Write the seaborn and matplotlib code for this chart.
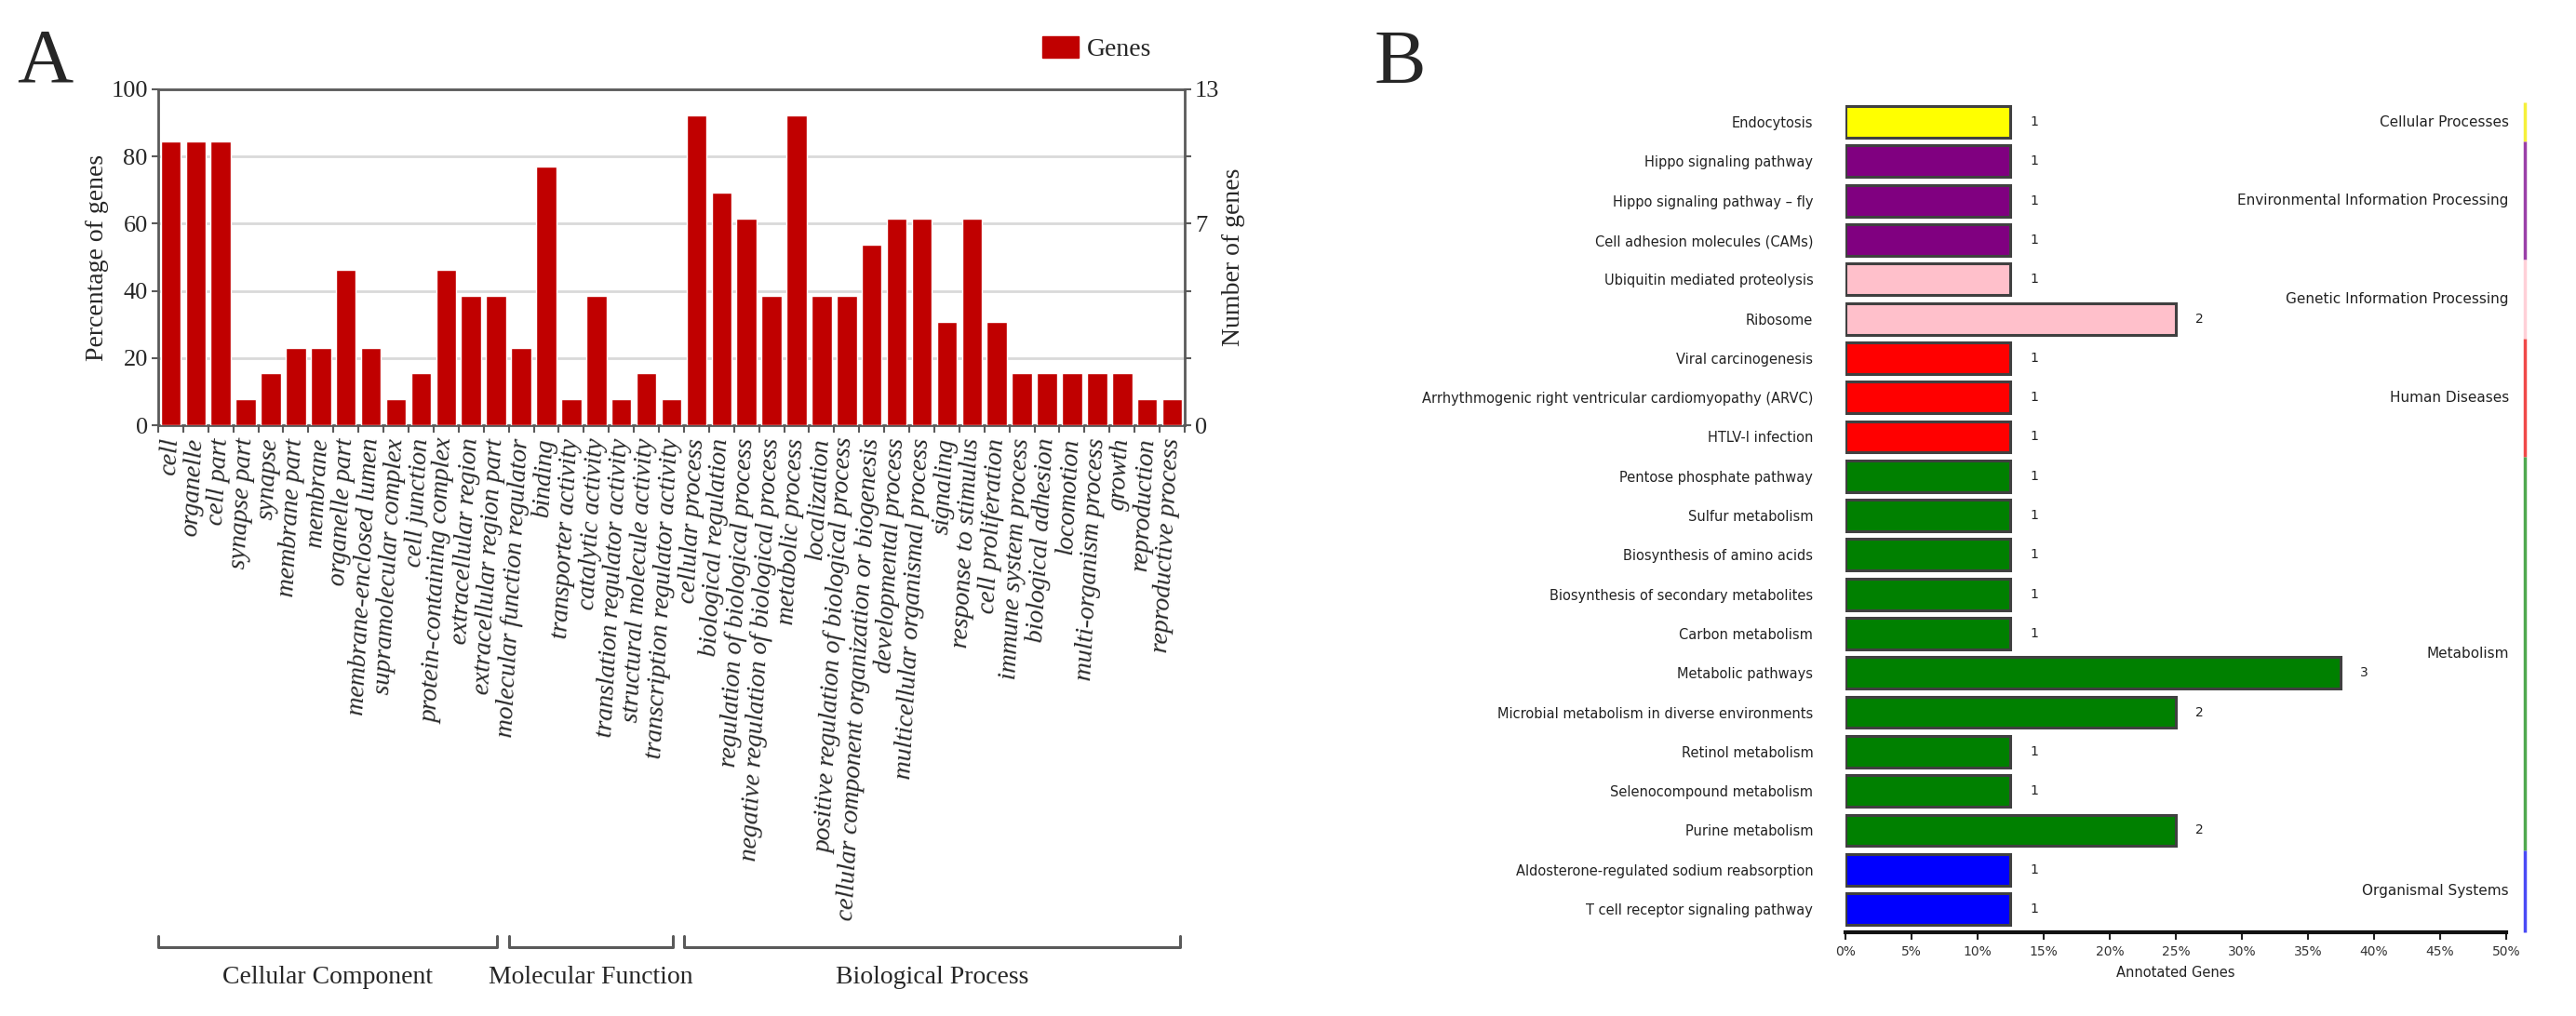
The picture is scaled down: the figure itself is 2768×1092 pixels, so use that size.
import numpy as np
import pandas as pd
import matplotlib
matplotlib.use("Agg")
import matplotlib.pyplot as plt
import matplotlib.transforms as mtransforms
from matplotlib.patches import Patch
import seaborn as sns

# ---- Panel A: GO annotation ----
go_terms = [
    "cell", "organelle", "cell part", "synapse part", "synapse", "membrane part",
    "membrane", "organelle part", "membrane-enclosed lumen", "supramolecular complex",
    "cell junction", "protein-containing complex", "extracellular region",
    "extracellular region part",
    "molecular function regulator", "binding", "transporter activity",
    "catalytic activity", "translation regulator activity",
    "structural molecule activity", "transcription regulator activity",
    "cellular process", "biological regulation", "regulation of biological process",
    "negative regulation of biological process", "metabolic process", "localization",
    "positive regulation of biological process",
    "cellular component organization or biogenesis", "developmental process",
    "multicellular organismal process", "signaling", "response to stimulus",
    "cell proliferation", "immune system process", "biological adhesion",
    "locomotion", "multi-organism process", "growth", "reproduction",
    "reproductive process",
]
go_counts = [11, 11, 11, 1, 2, 3, 3, 6, 3, 1, 2, 6, 5, 5,
             3, 10, 1, 5, 1, 2, 1,
             12, 9, 8, 5, 12, 5, 5, 7, 8, 8, 4, 8, 4, 2, 2, 2, 2, 2, 1, 1]
go_groups = ["Cellular Component", "Molecular Function", "Biological Process"]
go_group_sizes = [14, 7, 20]
go_total = 13
right_tick_labels = ["0", "", "", "7", "", "13"]

# ---- Panel B: KEGG pathways ----
kegg_pathways = [
    "Endocytosis", "Hippo signaling pathway", "Hippo signaling pathway \u2013 fly",
    "Cell adhesion molecules (CAMs)", "Ubiquitin mediated proteolysis", "Ribosome",
    "Viral carcinogenesis", "Arrhythmogenic right ventricular cardiomyopathy (ARVC)",
    "HTLV-I infection", "Pentose phosphate pathway", "Sulfur metabolism",
    "Biosynthesis of amino acids", "Biosynthesis of secondary metabolites",
    "Carbon metabolism", "Metabolic pathways",
    "Microbial metabolism in diverse environments", "Retinol metabolism",
    "Selenocompound metabolism", "Purine metabolism",
    "Aldosterone-regulated sodium reabsorption", "T cell receptor signaling pathway",
]
kegg_counts = [1, 1, 1, 1, 1, 2, 1, 1, 1, 1, 1, 1, 1, 1, 3, 2, 1, 1, 2, 1, 1]
kegg_classes = (["Cellular Processes"] + ["Environmental Information Processing"] * 3
                + ["Genetic Information Processing"] * 2 + ["Human Diseases"] * 3
                + ["Metabolism"] * 10 + ["Organismal Systems"] * 2)
kegg_total = 8
class_colors = {
    "Cellular Processes": "#FFFF00",
    "Environmental Information Processing": "#800080",
    "Genetic Information Processing": "#FFC0CB",
    "Human Diseases": "#FF0000",
    "Metabolism": "#008000",
    "Organismal Systems": "#0000FF",
}
line_colors = {
    "Cellular Processes": "#F5F03A",
    "Environmental Information Processing": "#9A3FA8",
    "Genetic Information Processing": "#FFD0D8",
    "Human Diseases": "#F04848",
    "Metabolism": "#4FA84F",
    "Organismal Systems": "#4A4AF5",
}

sns.set_theme(style="white")
plt.rcParams["font.family"] = ["Liberation Serif", "DejaVu Serif"]

fig = plt.figure(figsize=(27.68, 10.92), dpi=100)

# ================= Panel A =================
axA = fig.add_axes([0.0614, 0.5815, 0.3985, 0.3306])
dfA = pd.DataFrame({"term": go_terms, "count": go_counts})
dfA["pct"] = dfA["count"] / go_total * 100
sns.barplot(data=dfA, x="term", y="pct", color="#C00000", saturation=1,
            width=0.8, ax=axA, zorder=3)
axA.set_ylim(0, 100)
axA.set_xlim(-0.5, len(go_terms) - 0.5)
axA.set_yticks([0, 20, 40, 60, 80, 100])
axA.yaxis.grid(True, color="#d9d9d9", linewidth=2, zorder=0)
axA.set_axisbelow(True)
for s in axA.spines.values():
    s.set_color("#5a5a5a")
    s.set_linewidth(2)
axA.tick_params(axis="y", length=5, width=1.5, color="#5a5a5a", labelsize=19, pad=3)
axA.set_ylabel("Percentage of genes", fontsize=20, labelpad=2)
axA.set_xlabel("")
axA.set_xticks(range(len(go_terms)))
axA.set_xticklabels(go_terms, fontsize=20, fontstyle="italic")
axA.tick_params(axis="x", which="major", length=0, pad=10)
plt.setp(axA.get_xticklabels(), rotation=87, ha="right", va="center",
         rotation_mode="anchor")
axA.set_xticks(np.arange(-0.5, len(go_terms), 1.0), minor=True)
axA.tick_params(axis="x", which="minor", length=6, width=1.5, color="#5a5a5a",
                bottom=True)

axA2 = axA.twinx()
axA2.set_ylim(axA.get_ylim())
axA2.set_yticks([0, 20, 40, 60, 80, 100])
axA2.set_yticklabels(right_tick_labels)
axA2.tick_params(axis="y", length=5, width=1.5, color="#5a5a5a", labelsize=19, pad=3)
axA2.set_ylabel("Number of genes", fontsize=20, labelpad=2)
for s in axA2.spines.values():
    s.set_visible(False)

axA.legend(handles=[Patch(facecolor="#C00000", edgecolor="#C00000", label="Genes")],
           loc="center right", bbox_to_anchor=(0.99, 1.12), frameon=False,
           fontsize=20, handlelength=1.4, handleheight=0.9, handletextpad=0.3)

# brackets for GO categories
trA = mtransforms.blended_transform_factory(axA.transData, fig.transFigure)
start = 0
for name, size in zip(go_groups, go_group_sizes):
    x0 = start - 0.5
    x1 = start + size - 1 + (0.3 if start + size == len(go_terms) else 0.05)
    axA.plot([x0, x0, x1, x1], [0.0788, 0.0678, 0.0678, 0.0788], transform=trA,
             color="#5a5a5a", linewidth=2.2, clip_on=False)
    axA.text((x0 + x1) / 2, 0.038, name, transform=trA, ha="center", va="center",
             fontsize=20)
    start += size

fig.text(0.0065, 0.920, "A", fontsize=60, va="baseline", ha="left")

# ================= Panel B =================
axB = fig.add_axes([0.7164, 0.0824, 0.2565, 0.8169])
dfB = pd.DataFrame({"pathway": kegg_pathways, "count": kegg_counts,
                    "cls": kegg_classes})
dfB["pct"] = dfB["count"] / kegg_total * 100
sns.barplot(data=dfB, y="pathway", x="pct", hue="cls", palette=class_colors,
            dodge=False, legend=False, saturation=1, width=0.8,
            edgecolor="#404040", linewidth=2.2, ax=axB)
axB.set_xlim(0, 50)
axB.set_ylim(len(kegg_pathways) - 0.41, -0.5)
axB.set_xticks(np.arange(0, 51, 5))
axB.set_xticklabels([f"{v}%" for v in range(0, 51, 5)])
sans = ["DejaVu Sans"]
for lab in axB.get_xticklabels() + axB.get_yticklabels():
    lab.set_family(sans)
axB.tick_params(axis="x", length=6, width=1.5, color="#222222", labelsize=10,
                pad=4, bottom=True, labelcolor="#333333")
axB.tick_params(axis="y", length=0, labelsize=10.5, pad=25, labelcolor="#222222")
axB.set_ylabel("")
axB.set_xlabel("Annotated Genes", fontsize=10.5, family=sans, labelpad=6,
               color="#222222")
for side in ["top", "right", "left"]:
    axB.spines[side].set_visible(False)
axB.spines["bottom"].set_color("#111111")
axB.spines["bottom"].set_linewidth(3)

for i, (p, c) in enumerate(zip(dfB["pct"], dfB["count"])):
    axB.annotate(str(c), (p, i), xytext=(15, 0), textcoords="offset points",
                 va="center", ha="left", fontsize=10, family=sans, color="#222222")

# class side lines and labels
trB = mtransforms.blended_transform_factory(axB.transAxes, axB.transData)
classes_order = list(dict.fromkeys(kegg_classes))
for cls in classes_order:
    idx = [i for i, k in enumerate(kegg_classes) if k == cls]
    y0, y1 = idx[0] - 0.5, idx[-1] + 0.5
    if idx[-1] == len(kegg_classes) - 1:
        y1 = len(kegg_pathways) - 0.41
    axB.plot([1.028, 1.028], [y0, y1], transform=trB, color=line_colors[cls],
             linewidth=2.5, clip_on=False, solid_capstyle="butt")
    axB.text(1.004, (y0 + y1) / 2, cls, transform=trB, ha="right", va="center",
             fontsize=11, family=sans, color="#222222")

fig.text(0.5336, 0.9185, "B", fontsize=60, va="baseline", ha="left")

fig.savefig("out.png", dpi=100)
